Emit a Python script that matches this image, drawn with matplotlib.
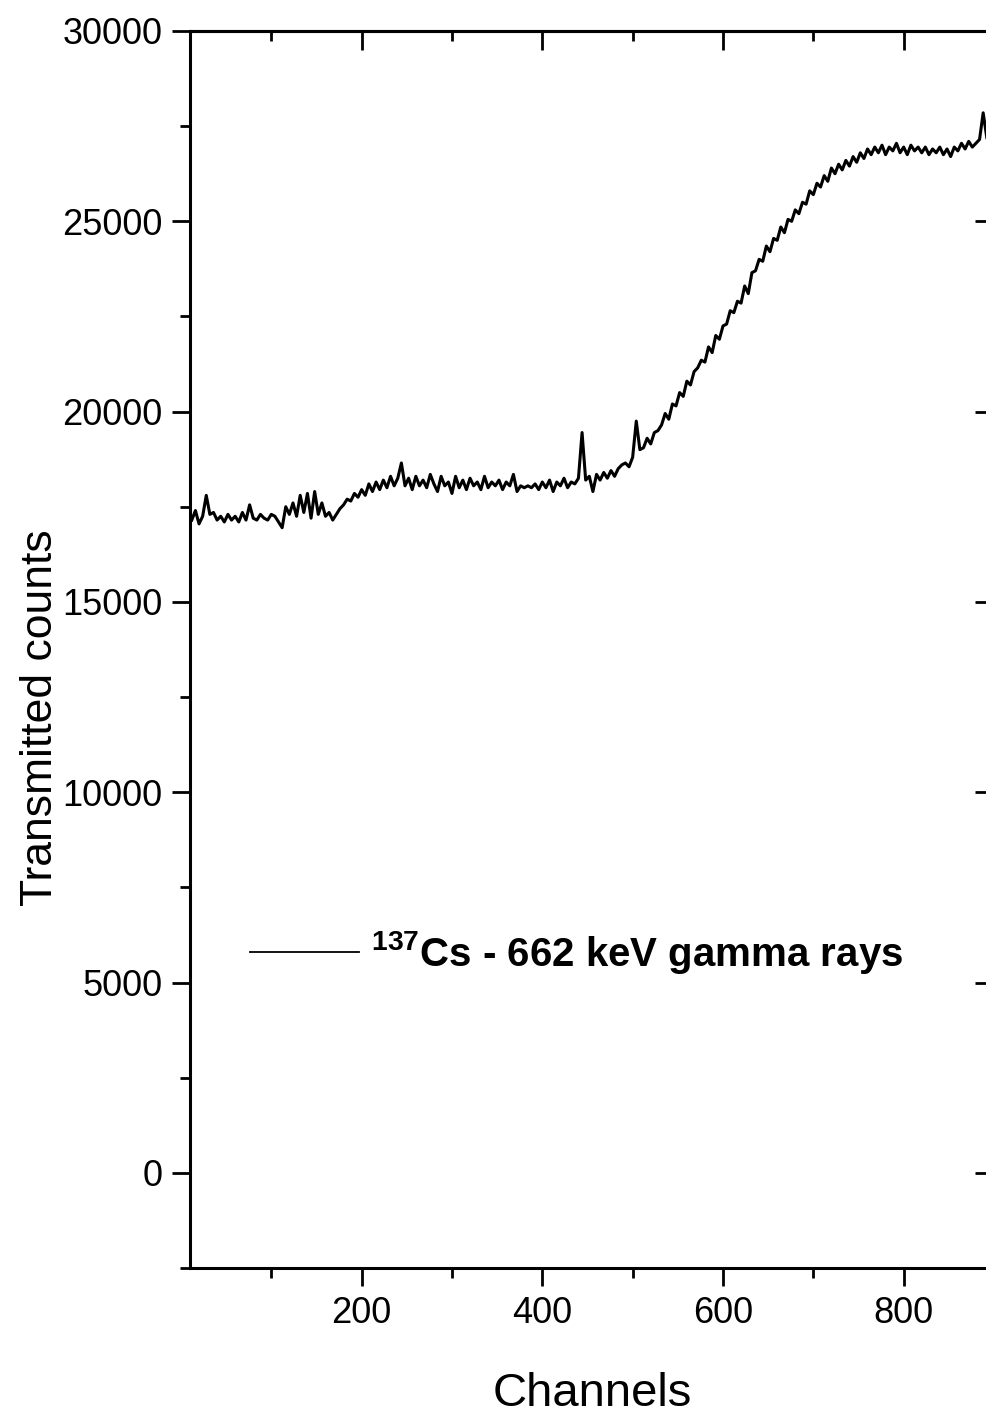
import numpy as np
import matplotlib
matplotlib.use("Agg")
import matplotlib.pyplot as plt
from matplotlib.ticker import MultipleLocator, NullFormatter

plt.rcParams['font.family'] = ['Liberation Sans Narrow', 'Liberation Sans', 'DejaVu Sans']
plt.rcParams['mathtext.default'] = 'regular'

# ============ data ============
channels = np.arange(12, 893, 4)
counts = [
    17150, 17400, 17050, 17250, 17800, 17300, 17350, 17150, 17250, 17100,
    17300, 17150, 17250, 17100, 17350, 17150, 17550, 17200, 17150, 17300,
    17200, 17150, 17300, 17250, 17100, 16950, 17500, 17300, 17600, 17250,
    17800, 17350, 17850, 17200, 17900, 17300, 17600, 17250, 17350, 17150,
    17300, 17450, 17550, 17700, 17650, 17850, 17750, 17950, 17800, 18100,
    17900, 18150, 17950, 18200, 18000, 18300, 18050, 18250, 18650, 18050,
    18250, 17950, 18300, 18050, 18200, 18000, 18350, 18100, 17900, 18300,
    18050, 18150, 17850, 18300, 18000, 18200, 17950, 18250, 18050, 18150,
    17950, 18300, 18000, 18150, 18050, 18200, 17950, 18150, 18050, 18350,
    17900, 18050, 18000, 18050, 18000, 18100, 17950, 18150, 18000, 18200,
    17900, 18150, 18050, 18250, 18000, 18150, 18100, 18250, 19450, 18200,
    18300, 17900, 18350, 18200, 18400, 18250, 18450, 18300, 18500, 18600,
    18650, 18550, 18800, 19750, 19000, 19050, 19300, 19150, 19450, 19500,
    19650, 19950, 19800, 20200, 20150, 20500, 20400, 20800, 20700, 21050,
    21150, 21350, 21300, 21700, 21550, 22000, 21900, 22250, 22300, 22650,
    22600, 22900, 22850, 23300, 23100, 23650, 23700, 24000, 23950, 24350,
    24200, 24550, 24500, 24850, 24700, 25050, 25000, 25300, 25200, 25500,
    25450, 25800, 25700, 26000, 25900, 26200, 26050, 26400, 26250, 26500,
    26350, 26600, 26450, 26700, 26550, 26800, 26650, 26900, 26750, 26950,
    26800, 27000, 26750, 26950, 26850, 27050, 26800, 26950, 26750, 27000,
    26850, 26950, 26800, 26950, 26750, 26900, 26800, 26950, 26750, 26900,
    26700, 26950, 26850, 27050, 26900, 27100, 26950, 27050, 27150, 27850,
    27200,
]
series_label = '$^{137}$Cs - 662 keV gamma rays'
x_ticks = [200, 400, 600, 800]
y_ticks = [0, 5000, 10000, 15000, 20000, 25000, 30000]

# ============ figure ============
fig = plt.figure(figsize=(9.87, 14.15), dpi=100)
ax = fig.add_axes([0.1925, 0.1039, 0.8146, 0.8742])

ax.plot(channels, counts, color='black', lw=2.2, label=series_label)

ax.set_xlim(10, 900)
ax.set_ylim(-2500, 30000)
ax.set_xticks(x_ticks)
ax.set_yticks(y_ticks)
ax.xaxis.set_minor_locator(MultipleLocator(100))
ax.yaxis.set_minor_locator(MultipleLocator(2500))

for s in ax.spines.values():
    s.set_linewidth(2.2)

ax.tick_params(which='both', direction='out', top=False, right=False,
               width=2.0, labelsize=26, pad=7)
ax.tick_params(which='major', length=13)
ax.tick_params(which='minor', length=7)

# top / right: inward ticks, no labels
top = ax.secondary_xaxis('top')
top.set_xticks(x_ticks)
top.xaxis.set_minor_locator(MultipleLocator(100))
top.xaxis.set_major_formatter(NullFormatter())
top.tick_params(which='both', direction='in', width=2.0)
top.tick_params(which='major', length=14)
top.tick_params(which='minor', length=7)
top.spines['top'].set_linewidth(2.2)

right = ax.secondary_yaxis('right')
right.set_yticks(y_ticks)
right.yaxis.set_minor_locator(MultipleLocator(2500))
right.yaxis.set_major_formatter(NullFormatter())
right.tick_params(which='both', direction='in', width=2.0)
right.tick_params(which='major', length=14)
right.tick_params(which='minor', length=3)

ax.set_xlabel('Channels', fontsize=34, labelpad=30)
ax.set_ylabel('Transmitted counts', fontsize=32)
ax.yaxis.set_label_coords(-0.16, 0.445)

leg = ax.legend(loc='center left', bbox_to_anchor=(0.075, 0.255), frameon=False,
                borderpad=0, borderaxespad=0, handlelength=2.7, handletextpad=0.3,
                prop={'size': 29, 'weight': 'bold'})
leg.get_lines()[0].set_linewidth(1.3)

fig.savefig('out.png', dpi=100)
